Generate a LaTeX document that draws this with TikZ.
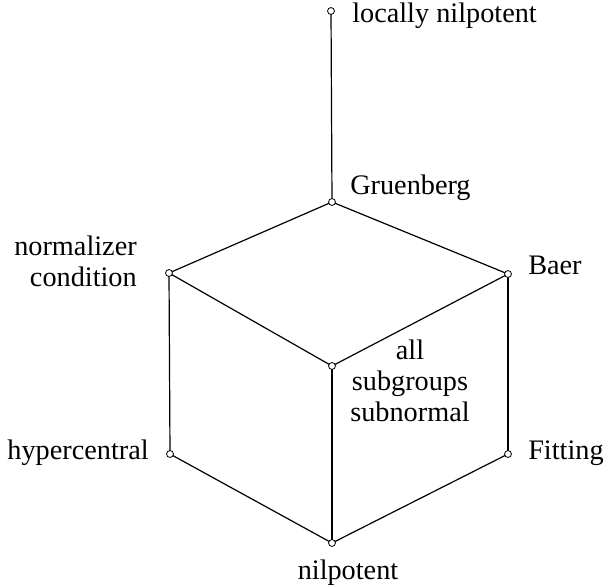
\documentclass[tikz,border=0pt]{standalone}
\usepackage{fontspec}
\setmainfont{Liberation Serif}
\begin{document}
\begin{tikzpicture}[x=0.75pt,y=-0.75pt,
  vtx/.style={circle,draw,fill=white,inner sep=0pt,minimum size=5.2pt,line width=0.6pt},
  edge/.style={line width=0.9pt},
  lbl/.style={inner sep=0pt,font=\fontsize{21.2}{23.25}\selectfont}]
\useasboundingbox (0,0) rectangle (606,585);
\coordinate (LN) at (331,11);
\coordinate (Gr) at (332,202);
\coordinate (NC) at (169,273);
\coordinate (Ba) at (508,274);
\coordinate (Ce) at (332,366);
\coordinate (Hy) at (170,454);
\coordinate (Fi) at (508,454);
\coordinate (Ni) at (332,543);
\draw[edge] (LN) -- (Gr);
\draw[edge] (Gr) -- (NC);
\draw[edge] (Gr) -- (Ba);
\draw[edge] (NC) -- (Ce);
\draw[edge] (Ba) -- (Ce);
\draw[edge] (NC) -- (Hy);
\draw[edge] (Ce) -- (Ni);
\draw[edge] (Ba) -- (Fi);
\draw[edge] (Hy) -- (Ni);
\draw[edge] (Fi) -- (Ni);
\foreach \v in {LN,Gr,NC,Ba,Ce,Hy,Fi,Ni} \node[vtx] (n\v) at (\v) {};
\node[lbl,anchor=base west] (tLN) at (352,23) {locally nilpotent};
\node[lbl,anchor=base west] (tGr) at (350,194) {Gruenberg};
\node[lbl,anchor=base east,align=right] (tNC) at (137,286) {normalizer\\condition};
\node[lbl,anchor=base west] (tBa) at (528,274) {Baer};
\node[lbl,anchor=base,align=center] (tCe) at (410,421) {all\\subgroups\\subnormal};
\node[lbl,anchor=base east] (tHy) at (149,459) {hypercentral};
\node[lbl,anchor=base west] (tFi) at (528,459) {Fitting};
\node[lbl,anchor=base] (tNi) at (348,579) {nilpotent};
\end{tikzpicture}
\end{document}
